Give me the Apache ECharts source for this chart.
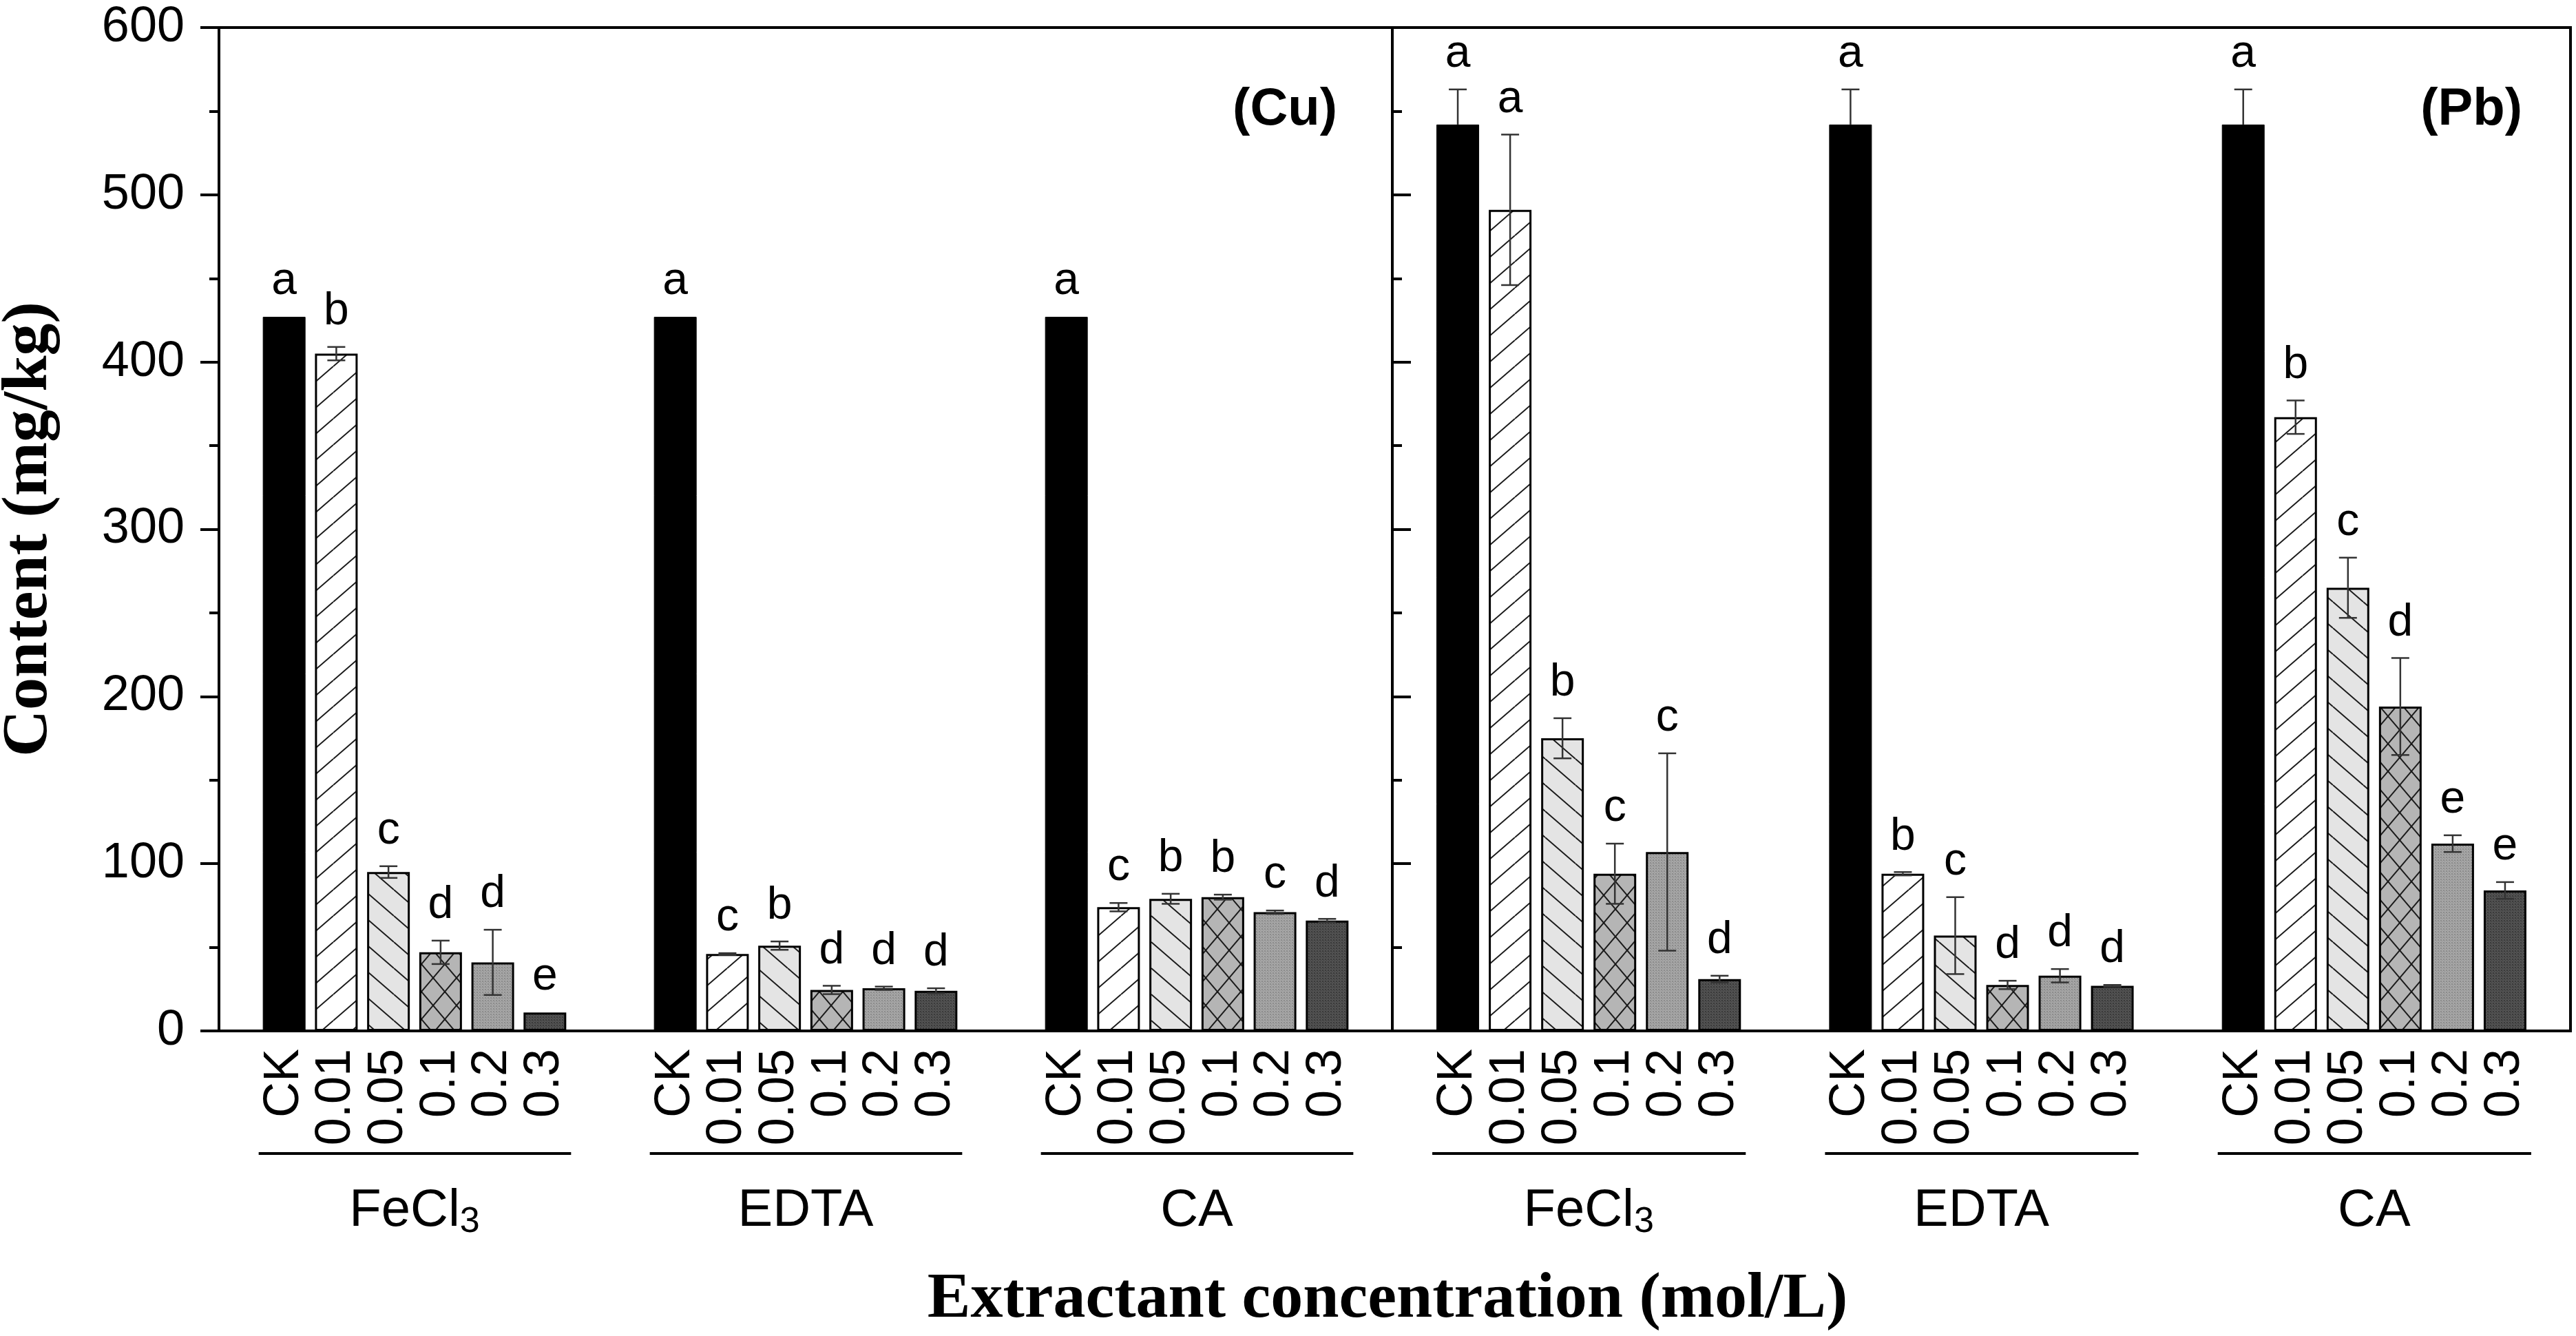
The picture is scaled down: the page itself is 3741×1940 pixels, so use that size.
<!DOCTYPE html>
<html><head><meta charset="utf-8">
<script src="https://cdn.jsdelivr.net/npm/echarts@6/dist/echarts.min.js"></script>
<style>html,body{margin:0;padding:0;background:#fff}#c{width:3741px;height:1940px}</style>
</head><body><div id="c"></div>
<script>
// ---------- data ----------
const concentrations = ['CK', '0.01', '0.05', '0.1', '0.2', '0.3'];
const extractants = ['FeCl3', 'EDTA', 'CA'];
const panelNames = ['(Cu)', '(Pb)'];
const yMin = 0, yMax = 600, yStep = 100;

// Cu
const cuFeCl3 = [427, 405, 95, 47, 41, 11];
const cuFeCl3Err = [0, 4, 3.5, 7, 19.5, 0];
const cuFeCl3Sig = ['a', 'b', 'c', 'd', 'd', 'e'];
const cuEDTA = [427, 46, 51, 24.5, 25.5, 24];
const cuEDTAErr = [0, 0.5, 2.5, 2.5, 1, 1.5];
const cuEDTASig = ['a', 'c', 'b', 'd', 'd', 'd'];
const cuCA = [427, 74, 79, 80, 71, 66];
const cuCAErr = [0, 2.5, 3, 1.5, 1, 1];
const cuCASig = ['a', 'c', 'b', 'b', 'c', 'd'];
// Pb
const pbFeCl3 = [542, 491, 175, 94, 107, 31];
const pbFeCl3Err = [21, 45, 12, 18, 59, 2];
const pbFeCl3Sig = ['a', 'a', 'b', 'c', 'c', 'd'];
const pbEDTA = [542, 94, 57, 27.5, 33, 27];
const pbEDTAErr = [21, 1, 23, 2.5, 4, 0.5];
const pbEDTASig = ['a', 'b', 'c', 'd', 'd', 'd'];
const pbCA = [542, 367, 265, 194, 112, 84];
const pbCAErr = [21, 10, 18, 29, 5, 5];
const pbCASig = ['a', 'b', 'c', 'd', 'e', 'e'];

// ---------- build ----------
const SANS = '"Liberation Sans", Arial, Helvetica, sans-serif';
const SERIF = '"Liberation Serif", "Times New Roman", Times, serif';

function tile(w, h, bg, draw) {
  const c = document.createElement('canvas');
  c.width = w; c.height = h;
  const g = c.getContext('2d');
  g.fillStyle = bg; g.fillRect(0, 0, w, h);
  g.strokeStyle = '#1a1a1a'; g.lineWidth = 2;
  draw(g, w, h);
  return { image: c, repeat: 'repeat' };
}
function slash(g, w, h) { for (let k = -1; k <= 1; k++) { g.beginPath(); g.moveTo(0, h + k * h); g.lineTo(w, k * h); g.stroke(); } }
function back(g, w, h) { for (let k = -1; k <= 1; k++) { g.beginPath(); g.moveTo(0, k * h); g.lineTo(w, h + k * h); g.stroke(); } }
function dots(col) { return function (g) { g.fillStyle = col; g.fillRect(0, 0, 2, 2); g.fillRect(2, 2, 1, 1); }; }

const fills = [
  '#000000',
  tile(44, 38, '#ffffff', slash),
  tile(44, 38, '#e4e4e4', back),
  tile(34, 40, '#b5b5b5', function (g, w, h) { slash(g, w, h); back(g, w, h); }),
  tile(4, 4, '#a6a6a6', dots('#8c8c8c')),
  tile(4, 4, '#525252', dots('#3a3a3a'))
];

const NCAT = 45;
function catIndex(g, c) { return 2 + g * 15 + c * 2; }
const catNames = [], catLabels = [];
for (let i = 0; i < NCAT; i++) { catNames.push('c' + i); catLabels.push(''); }
for (let g = 0; g < 3; g++) for (let c = 0; c < 6; c++) catLabels[catIndex(g, c)] = concentrations[c];

const panels = [
  [[cuFeCl3, cuFeCl3Err, cuFeCl3Sig], [cuEDTA, cuEDTAErr, cuEDTASig], [cuCA, cuCAErr, cuCASig]],
  [[pbFeCl3, pbFeCl3Err, pbFeCl3Sig], [pbEDTA, pbEDTAErr, pbEDTASig], [pbCA, pbCAErr, pbCASig]]
];

const series = [];
panels.forEach(function (groups, p) {
  const barData = new Array(NCAT).fill(null);
  const items = [];
  groups.forEach(function (grp, g) {
    grp[0].forEach(function (v, c) {
      const idx = catIndex(g, c);
      barData[idx] = {
        value: v,
        itemStyle: { color: fills[c], borderColor: '#000', borderWidth: c === 0 ? 1 : 3 }
      };
      items.push({ cat: idx, conc: c, mean: v, err: grp[1][c], sig: grp[2][c] });
    });
  });
  series.push({
    type: 'bar', xAxisIndex: p, yAxisIndex: p, data: barData, barWidth: 62,
    silent: true, z: 2
  });
  series.push({
    type: 'custom', xAxisIndex: p, yAxisIndex: p, z: 5, silent: true,
    data: items.map(function (it) { return [it.cat, it.mean + it.err, it.mean - it.err]; }),
    encode: { x: 0, y: [1, 2] },
    renderItem: function (params, api) {
      const it = items[params.dataIndex];
      const top = api.coord([it.cat, it.mean + it.err]);
      const mid = api.coord([it.cat, it.mean]);
      const bot = api.coord([it.cat, it.mean - it.err]);
      const x = top[0];
      const ch = [];
      if (it.err > 0) {
        const ls = { stroke: '#333', lineWidth: 2.5 };
        const lowStyle = { stroke: it.conc === 0 ? '#000' : '#333', lineWidth: 2.5 };
        ch.push({ type: 'line', shape: { x1: x, y1: top[1], x2: x, y2: mid[1] }, style: ls });
        ch.push({ type: 'line', shape: { x1: x, y1: mid[1], x2: x, y2: bot[1] }, style: lowStyle });
        ch.push({ type: 'line', shape: { x1: x - 13, y1: top[1], x2: x + 13, y2: top[1] }, style: ls });
        ch.push({ type: 'line', shape: { x1: x - 13, y1: bot[1], x2: x + 13, y2: bot[1] }, style: lowStyle });
      }
      ch.push({
        type: 'text',
        style: { text: it.sig, x: x, y: top[1] - 18, align: 'center', verticalAlign: 'bottom',
          font: '66px ' + SANS, fill: '#000' }
      });
      return { type: 'group', children: ch };
    }
  });
});

function gridDef(left, width) {
  return { left: left, top: 40, width: width, height: 1457, show: true, borderColor: '#000',
    borderWidth: 4, backgroundColor: 'transparent', containLabel: false, outerBoundsMode: 'none' };
}

function catAxis(gi) {
  return {
    type: 'category', gridIndex: gi, data: catNames, position: 'bottom',
    axisLine: { show: true, lineStyle: { color: '#000', width: 4 } },
    axisTick: { show: false },
    axisLabel: {
      interval: 0, rotate: 90, margin: 26, fontSize: 72, fontFamily: SANS, color: '#000',
      formatter: function (v, i) { return catLabels[i]; }, hideOverlap: false
    },
    splitLine: { show: false }
  };
}
function groupAxis(gi) {
  return {
    type: 'category', gridIndex: gi, data: extractants, position: 'bottom',
    axisLine: { show: false }, axisTick: { show: false }, splitLine: { show: false },
    axisLabel: {
      interval: 0, margin: 224, color: '#000',
      formatter: function (v) { return v === 'FeCl3' ? '{n|FeCl}{s|3}' : '{n|' + v + '}'; },
      rich: {
        n: { fontSize: 76, fontFamily: SANS, color: '#000', lineHeight: 80, verticalAlign: 'top' },
        s: { fontSize: 52, fontFamily: SANS, color: '#000', lineHeight: 52, verticalAlign: 'bottom', padding: [44, 0, 0, 0] }
      }
    }
  };
}
function valAxis(gi, showLabels) {
  const o = {
    type: 'value', gridIndex: gi, min: yMin, max: yMax, interval: yStep,
    axisLine: { show: true, lineStyle: { color: '#000', width: 4 } },
    axisTick: { show: true, inside: !showLabels, length: 27, lineStyle: { color: '#000', width: 4 } },
    minorTick: { show: true, splitNumber: 2, length: 14, lineStyle: { color: '#000', width: 4 } },
    axisLabel: { show: showLabels, margin: 50, fontSize: 72, fontFamily: SANS, color: '#000' },
    splitLine: { show: false }, minorSplitLine: { show: false }
  };
  if (showLabels) {
    o.name = 'Content (mg/kg)';
    o.nameLocation = 'middle';
    o.nameGap = 228;
    o.nameTextStyle = { fontFamily: SERIF, fontWeight: 'bold', fontSize: 94, color: '#000' };
  }
  return o;
}

const option = {
  animation: false,
  backgroundColor: '#ffffff',
  grid: [gridDef(318, 1704), gridDef(2022, 1711)],
  xAxis: [catAxis(0), catAxis(1), groupAxis(0), groupAxis(1)],
  yAxis: [valAxis(0, true), valAxis(1, false)],
  series: series
};

const chart = echarts.init(document.getElementById('c'), null, { renderer: 'canvas' });
chart.setOption(option);

// group underlines and annotation texts, placed through the axes' own scales
const graphics = [];
[0, 1].forEach(function (p) {
  for (let g = 0; g < 3; g++) {
    const x1 = chart.convertToPixel({ xAxisIndex: p }, catIndex(g, 0));
    const x2 = chart.convertToPixel({ xAxisIndex: p }, catIndex(g, 5));
    graphics.push({ type: 'line', shape: { x1: x1 - 37, y1: 1675, x2: x2 + 38, y2: 1675 },
      style: { stroke: '#000', lineWidth: 4 }, silent: true });
  }
});
const rightEdges = [1942, 3663];
panelNames.forEach(function (t, p) {
  graphics.push({ type: 'text', x: rightEdges[p], y: 160,
    style: { text: t, font: 'bold 76px ' + SANS, fill: '#000', align: 'right', verticalAlign: 'middle' } });
});
graphics.push({ type: 'text', x: 2015, y: 1888,
  style: { text: 'Extractant concentration (mol/L)', font: 'bold 94px ' + SERIF, fill: '#000',
    align: 'center', verticalAlign: 'middle' } });
chart.setOption({ graphic: graphics });
</script></body></html>
